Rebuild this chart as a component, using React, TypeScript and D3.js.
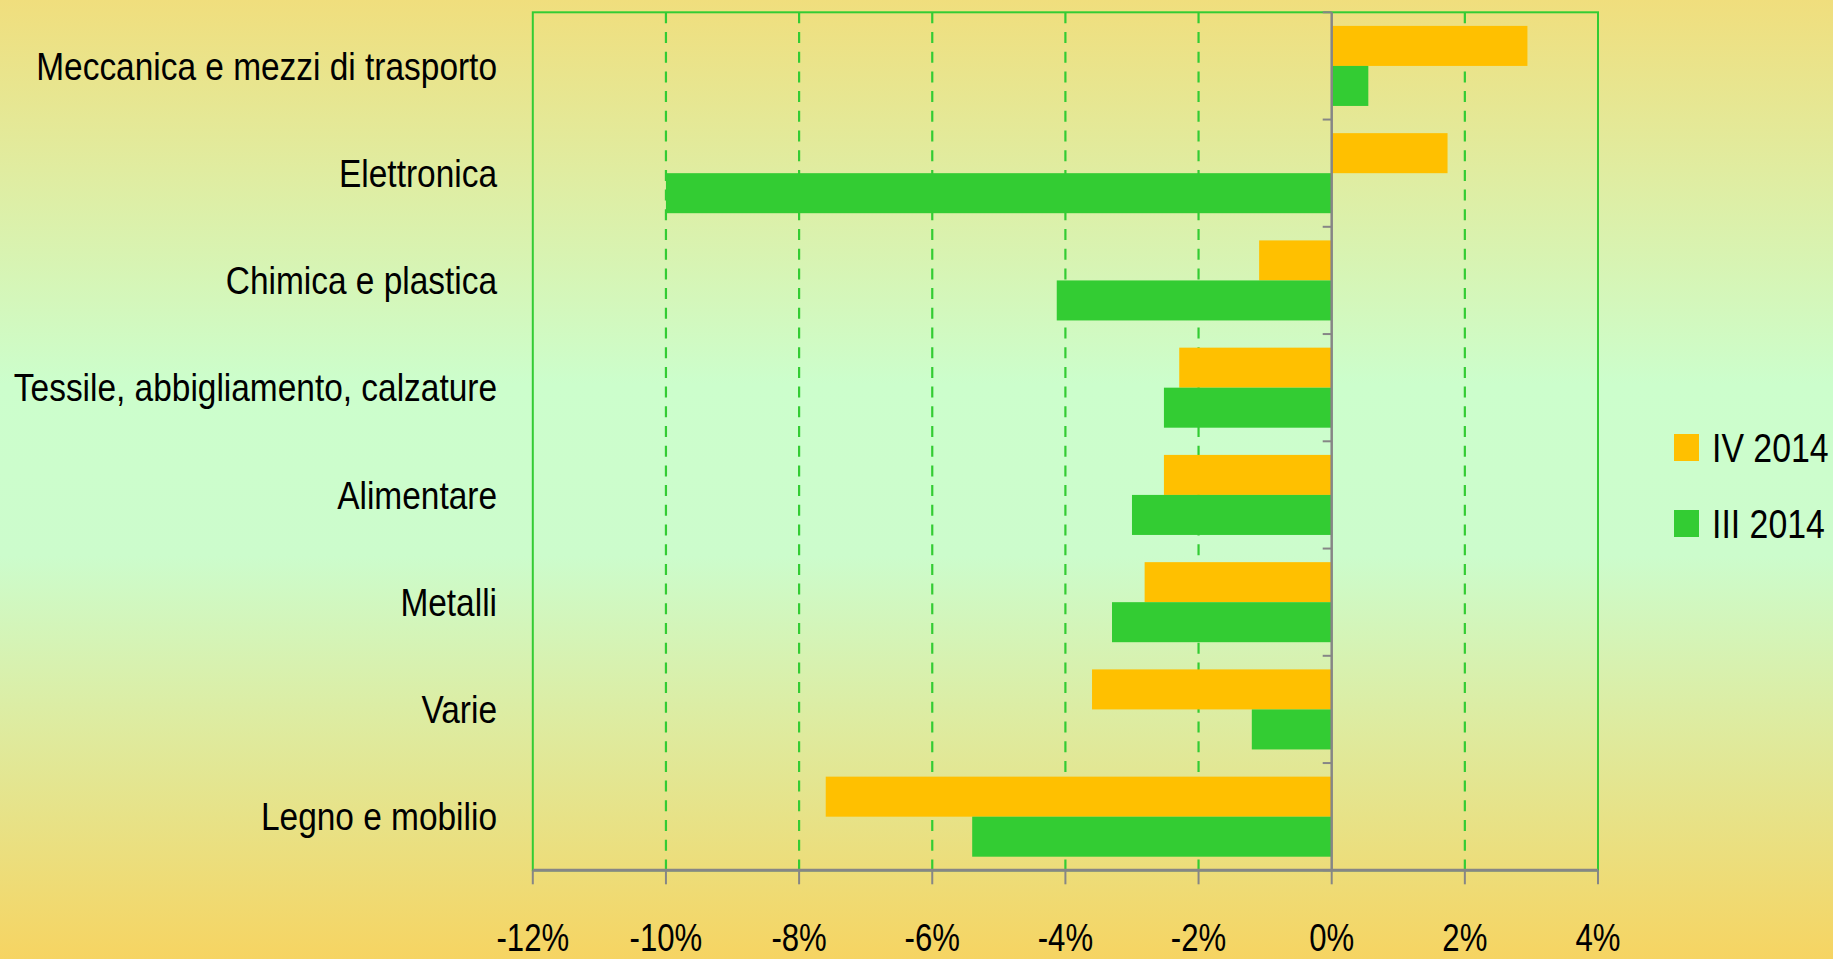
import React from "react";
import * as d3 from "d3";

const categories = [
  "Meccanica e mezzi di trasporto",
  "Elettronica",
  "Chimica e plastica",
  "Tessile, abbigliamento, calzature",
  "Alimentare",
  "Metalli",
  "Varie",
  "Legno e mobilio",
];
const seriesNames = ["IV 2014", "III 2014"];
const iv2014 = [2.94, 1.74, -1.09, -2.29, -2.52, -2.81, -3.6, -7.6];
const iii2014 = [0.55, -10.0, -4.13, -2.52, -3.0, -3.3, -1.2, -5.4];
const xTicks = [-12, -10, -8, -6, -4, -2, 0, 2, 4];

const W = 1833;
const H = 959;
const FONT = "'Liberation Sans', Arial, sans-serif";
const colors = ["#ffc000", "#33cc33"];

function T({
  x,
  y,
  anchor,
  size,
  sx,
  children,
}: {
  x: number;
  y: number;
  anchor?: string;
  size: number;
  sx: number;
  children: React.ReactNode;
}) {
  return (
    <g transform={`translate(${x},${y}) scale(${sx},1)`}>
      <text x={0} y={0} textAnchor={anchor || "start"} fontSize={size} fill="#000">
        {children}
      </text>
    </g>
  );
}

export default function App() {
  const left = 532.8;
  const right = 1598;
  const top = 12.3;
  const bottom = 870.3;

  const x = d3.scaleLinear().domain([-12, 4]).range([left, right]);
  const y = d3.scaleBand<string>().domain(categories).range([top, bottom]).padding(0);
  const sub = d3
    .scaleBand<string>()
    .domain(seriesNames)
    .range([0, y.bandwidth()])
    .paddingInner(0)
    .paddingOuter(0.34);

  const series = [iv2014, iii2014];
  const x0 = x(0);
  const boundaries = d3.range(categories.length + 1).map((i) => top + i * y.step());

  return (
    <svg
      width={W}
      height={H}
      style={{ position: "absolute", left: 0, top: 0, display: "block" }}
      fontFamily={FONT}
    >
      <defs>
        <linearGradient id="bg" x1="0" y1="0" x2="0" y2="1">
          <stop offset="0" stopColor="#f0de7d" />
          <stop offset="0.40" stopColor="#ccfecc" />
          <stop offset="0.58" stopColor="#ccfccc" />
          <stop offset="1" stopColor="#f6d462" />
        </linearGradient>
      </defs>
      <rect x={0} y={0} width={W} height={H} fill="url(#bg)" />

      {/* gridlines */}
      {xTicks
        .filter((t) => t !== 0 && t !== -12 && t !== 4)
        .map((t) => (
          <line
            key={"g" + t}
            x1={x(t)}
            x2={x(t)}
            y1={top}
            y2={bottom}
            stroke="#33cc33"
            strokeWidth={2.2}
            strokeDasharray="11,8.7"
          />
        ))}

      {/* plot border */}
      <rect
        x={left}
        y={top}
        width={right - left}
        height={bottom - top}
        fill="none"
        stroke="#33cc33"
        strokeWidth={2}
      />

      {/* bars */}
      {categories.map((c, i) => (
        <g key={c}>
          {series.map((s, j) => {
            const v = s[i];
            const yy = (y(c) as number) + (sub(seriesNames[j]) as number);
            return (
              <rect
                key={j}
                x={Math.min(x(v), x0)}
                y={yy}
                width={Math.abs(x(v) - x0)}
                height={sub.bandwidth()}
                fill={colors[j]}
              />
            );
          })}
        </g>
      ))}

      {/* zero axis */}
      <line x1={x0} x2={x0} y1={top} y2={bottom} stroke="#868686" strokeWidth={2.5} />
      {boundaries.map((b, i) => (
        <line key={"ct" + i} x1={x0 - 9} x2={x0} y1={b} y2={b} stroke="#868686" strokeWidth={2} />
      ))}

      {/* bottom axis */}
      <line x1={left} x2={right} y1={bottom} y2={bottom} stroke="#868686" strokeWidth={3} />
      {xTicks.map((t) => (
        <g key={"t" + t}>
          <line x1={x(t)} x2={x(t)} y1={bottom} y2={bottom + 14} stroke="#868686" strokeWidth={2} />
          <T x={x(t)} y={951} anchor="middle" size={38} sx={0.82}>
            {t + "%"}
          </T>
        </g>
      ))}

      {/* category labels */}
      {categories.map((c) => (
        <T
          key={"l" + c}
          x={497}
          y={(y(c) as number) + y.bandwidth() / 2 + 13.7}
          anchor="end"
          size={38}
          sx={0.88}
        >
          {c}
        </T>
      ))}

      {/* legend */}
      {seriesNames.map((n, j) => (
        <g key={"lg" + n}>
          <rect x={1674} y={434 + j * 76} width={25} height={27} fill={colors[j]} />
          <T x={1712} y={461.5 + j * 76} size={40} sx={0.846}>
            {n}
          </T>
        </g>
      ))}
    </svg>
  );
}
